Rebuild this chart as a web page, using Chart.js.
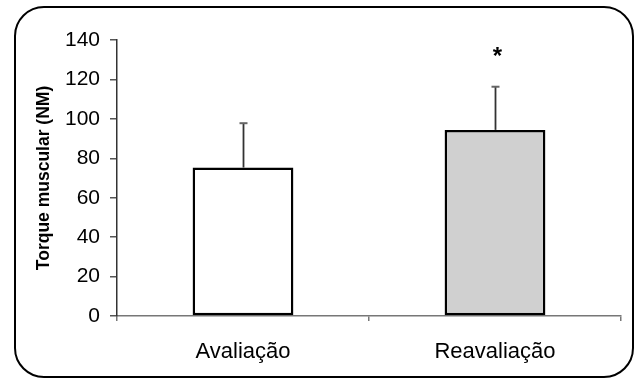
<!DOCTYPE html>
<html>
<head>
<meta charset="utf-8">
<script src="https://cdn.jsdelivr.net/npm/chart.js@4/dist/chart.umd.min.js"></script>
<style>
  html, body { margin: 0; padding: 0; background: #fff; }
  #wrap { position: relative; width: 634px; height: 379px; }
  #frame {
    position: absolute; left: 14px; top: 6px; width: 620px; height: 372px;
    box-sizing: border-box; border: 2.5px solid #000; border-radius: 30px;
  }
  #chart { position: absolute; left: 0; top: 0; }
</style>
</head>
<body>
<div id="wrap">
  <div id="frame"></div>
  <canvas id="chart" width="634" height="379"></canvas>
</div>
<script>
const categories = ['Avaliação', 'Reavaliação'];
const torque = [75.3, 94.4];
const torqueSd = [22.5, 21.9];
const significance = ['', '*'];
const barColors = ['#ffffff', '#d0d0d0'];
const yTicks = [0, 20, 40, 60, 80, 100, 120, 140];

// draws upper error bars + significance marks
const errorBars = {
  id: 'errorBars',
  afterDatasetsDraw(chart) {
    const { ctx } = chart;
    const yScale = chart.scales.y;
    const meta = chart.getDatasetMeta(0);
    meta.data.forEach((bar, i) => {
      const top = yScale.getPixelForValue(torque[i] + torqueSd[i]);
      const x = Math.round(bar.x) + 0.5;
      ctx.save();
      ctx.strokeStyle = '#333';
      ctx.lineWidth = 1.8;
      ctx.beginPath();
      ctx.moveTo(x, bar.y);
      ctx.lineTo(x, top);
      ctx.stroke();
      ctx.strokeStyle = '#666';
      ctx.lineWidth = 2;
      ctx.beginPath();
      ctx.moveTo(x - 4, top);
      ctx.lineTo(x + 4, top);
      ctx.stroke();
      if (significance[i]) {
        ctx.fillStyle = '#000';
        ctx.font = 'bold 24px "Liberation Sans", Arial, sans-serif';
        ctx.textAlign = 'center';
        ctx.textBaseline = 'middle';
        ctx.fillText(significance[i], x + 2, top - 29);
      }
      ctx.restore();
    });
  }
};

new Chart(document.getElementById('chart'), {
  type: 'bar',
  data: {
    labels: categories,
    datasets: [{
      data: torque,
      backgroundColor: barColors,
      borderColor: '#000',
      borderWidth: 2.5,
      borderSkipped: false,
      barPercentage: 0.4,
      categoryPercentage: 1
    }]
  },
  options: {
    responsive: false,
    animation: false,
    layout: { padding: { left: 0, top: 40, right: 13, bottom: 0 } },
    plugins: { legend: { display: false }, tooltip: { enabled: false } },
    scales: {
      x: {
        offset: true,
        afterFit(scale) { scale.height = 63; },
        border: { color: '#777', width: 1.5 },
        grid: {
          offset: true, drawOnChartArea: false, drawTicks: true,
          tickLength: 5, color: '#777', lineWidth: 1.5
        },
        ticks: {
          padding: 18, color: '#000',
          font: { family: '"Liberation Sans", Arial, sans-serif', size: 22 }
        }
      },
      y: {
        min: 0,
        max: 140,
        afterFit(scale) { scale.width = 117; },
        afterBuildTicks(scale) { scale.ticks = yTicks.map(v => ({ value: v })); },
        border: { color: '#333', width: 1.5 },
        grid: {
          drawOnChartArea: false, drawTicks: true,
          tickLength: 7, color: '#555', lineWidth: 1.5
        },
        ticks: {
          padding: 10, color: '#000',
          font: { family: '"Liberation Sans", Arial, sans-serif', size: 21 }
        },
        title: {
          display: true,
          text: 'Torque muscular (NM)',
          color: '#000',
          padding: { top: 34, bottom: 0 },
          font: { family: '"Liberation Sans", Arial, sans-serif', size: 17.5, weight: 'bold' }
        }
      }
    }
  },
  plugins: [errorBars]
});
</script>
</body>
</html>
